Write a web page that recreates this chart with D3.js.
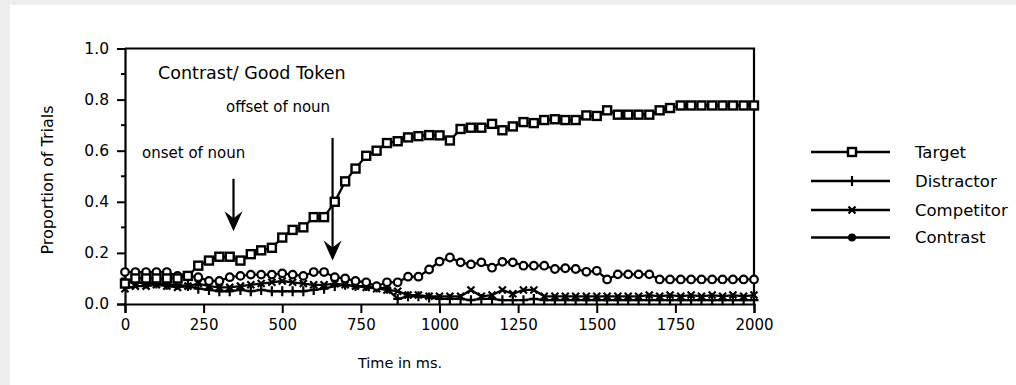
<!DOCTYPE html>
<html><head><meta charset="utf-8">
<script src="https://cdn.jsdelivr.net/npm/d3@7"></script>
<style>html,body{margin:0;padding:0;background:#eeeeee;}svg{display:block;}</style>
</head><body>
<svg id="chart" width="1016" height="385"></svg>
<script>
const times = [0,33,67,100,133,167,200,233,267,300,333,367,400,433,467,500,533,567,600,633,667,700,733,767,800,833,867,900,933,967,1000,1033,1067,1100,1133,1167,1200,1233,1267,1300,1333,1367,1400,1433,1467,1500,1533,1567,1600,1633,1667,1700,1733,1767,1800,1833,1867,1900,1933,1967,2000];
const target = [0.08,0.10,0.10,0.10,0.10,0.10,0.11,0.15,0.17,0.185,
  0.185,0.17,0.195,0.21,0.22,0.26,0.29,0.30,0.34,0.34,
  0.40,0.48,0.53,0.58,0.60,0.63,0.637,0.652,0.657,0.661,
  0.66,0.64,0.685,0.69,0.69,0.705,0.68,0.695,0.712,0.708,
  0.72,0.723,0.72,0.72,0.738,0.736,0.758,0.741,0.741,0.741,
  0.741,0.758,0.767,0.777,0.777,0.777,0.777,0.777,0.777,0.777,0.777];
const distractor = [0.09,0.085,0.08,0.08,0.075,0.075,0.07,0.06,0.055,0.05,
  0.05,0.055,0.05,0.055,0.05,0.05,0.05,0.05,0.055,0.06,
  0.07,0.075,0.07,0.07,0.065,0.06,0.02,0.03,0.03,0.025,
  0.02,0.02,0.02,0.015,0.02,0.02,0.015,0.015,0.015,0.02,
  0.015,0.015,0.015,0.015,0.015,0.015,0.015,0.015,0.015,0.015,
  0.015,0.015,0.015,0.015,0.015,0.015,0.015,0.015,0.015,0.015,0.015];
const competitor = [0.06,0.07,0.07,0.075,0.07,0.065,0.07,0.08,0.07,0.065,
  0.065,0.07,0.075,0.08,0.085,0.09,0.085,0.08,0.075,0.075,
  0.08,0.075,0.07,0.065,0.06,0.055,0.05,0.035,0.035,0.03,
  0.03,0.03,0.03,0.055,0.03,0.035,0.055,0.04,0.055,0.055,
  0.03,0.03,0.03,0.03,0.03,0.03,0.03,0.03,0.03,0.03,
  0.035,0.03,0.035,0.03,0.035,0.03,0.035,0.03,0.035,0.03,0.035];
const contrast = [0.125,0.125,0.125,0.125,0.125,0.11,0.11,0.105,0.09,0.09,
  0.105,0.11,0.115,0.115,0.115,0.12,0.115,0.11,0.125,0.125,
  0.105,0.10,0.09,0.085,0.07,0.085,0.085,0.107,0.107,0.135,
  0.166,0.182,0.163,0.155,0.163,0.142,0.165,0.163,0.15,0.15,
  0.15,0.137,0.14,0.137,0.126,0.13,0.096,0.116,0.116,0.116,
  0.116,0.096,0.096,0.096,0.096,0.096,0.096,0.096,0.096,0.096,0.096];
const seriesNames = ["Target","Distractor","Competitor","Contrast"];
const xTicks = [0,250,500,750,1000,1250,1500,1750,2000];
const yTicks = [0,0.2,0.4,0.6,0.8,1.0];
const yMinorTicks = [0.1,0.3,0.5,0.7,0.9];
const annotations = [
  {text:"onset of noun", t:345, from:0.49, to:0.285, lx:142, ly:158},
  {text:"offset of noun", t:660, from:0.65, to:0.17, lx:226, ly:112}
];

const svg = d3.select("#chart");
const FONT = "DejaVu Sans, Verdana, sans-serif";
svg.append("rect").attr("x",10).attr("y",5).attr("width",1006).attr("height",380).attr("fill","#ffffff");

const x = d3.scaleLinear().domain([0,2000]).range([125,754]);
const y = d3.scaleLinear().domain([0,1]).range([304,48.5]);

svg.append("path").attr("d",`M${x(0)},${y(1)}H${x(2000)}V${y(0)}`).attr("fill","none").attr("stroke","#000").attr("stroke-width",2.2);

const yAxis = svg.append("g").attr("transform",`translate(${x(0)},0)`)
  .call(d3.axisLeft(y).tickValues(yTicks).tickFormat(d3.format(".1f")).tickSize(8).tickPadding(8));
yAxis.select(".domain").attr("stroke-width",2.2);
yAxis.selectAll(".tick line").attr("stroke-width",2);
yAxis.selectAll("text").attr("font-family",FONT).attr("font-size",15.5).attr("fill","#000");
svg.append("g").attr("transform",`translate(${x(0)},0)`).selectAll("line").data(yMinorTicks).join("line")
  .attr("x1",-4).attr("x2",0).attr("y1",d=>y(d)).attr("y2",d=>y(d)).attr("stroke","#000").attr("stroke-width",2);

const xAxis = svg.append("g").attr("transform",`translate(0,${y(0)})`)
  .call(d3.axisBottom(x).tickValues(xTicks).tickFormat(d3.format("d")).tickSize(9).tickPadding(6));
xAxis.select(".domain").attr("stroke-width",2.2);
xAxis.selectAll(".tick line").attr("stroke-width",2);
xAxis.selectAll("text").attr("font-family",FONT).attr("font-size",15).attr("fill","#000");

svg.append("text").attr("x",400).attr("y",368).attr("text-anchor","middle")
  .attr("font-family",FONT).attr("font-size",14.5).attr("fill","#000").text("Time in ms.");
svg.append("text").attr("transform","translate(53,180) rotate(-90)").attr("text-anchor","middle")
  .attr("font-family",FONT).attr("font-size",16).attr("fill","#000").text("Proportion of Trials");

svg.append("text").attr("x",158).attr("y",79).attr("font-family",FONT).attr("font-size",17.5).attr("fill","#000").text("Contrast/ Good Token");
annotations.forEach(a=>{
  svg.append("text").attr("x",a.lx).attr("y",a.ly).attr("font-family",FONT).attr("font-size",15).attr("fill","#000").text(a.text);
  const ax = x(a.t), y1 = y(a.from), y2 = y(a.to);
  svg.append("line").attr("x1",ax).attr("x2",ax).attr("y1",y1).attr("y2",y2-12).attr("stroke","#000").attr("stroke-width",2.2);
  svg.append("path").attr("d",`M${ax},${y2}L${ax-9},${y2-20}L${ax},${y2-13}L${ax+9},${y2-20}Z`).attr("fill","#000");
});

function drawMarker(g, type, cx, cy, legend){
  if(type==="Target"){
    g.append("rect").attr("x",cx-4).attr("y",cy-4).attr("width",8).attr("height",8).attr("fill","#fff").attr("stroke","#000").attr("stroke-width",2.4);
  } else if(type==="Distractor"){
    g.append("path").attr("d",`M${cx-4.5},${cy}H${cx+4.5}M${cx},${cy-5}V${cy+5}`).attr("stroke","#000").attr("stroke-width",2.2);
  } else if(type==="Competitor"){
    g.append("path").attr("d",`M${cx-3.5},${cy-3.5}L${cx+3.5},${cy+3.5}M${cx-3.5},${cy+3.5}L${cx+3.5},${cy-3.5}`).attr("stroke","#000").attr("stroke-width",2.2);
  } else {
    if(legend) g.append("circle").attr("cx",cx).attr("cy",cy).attr("r",4).attr("fill","#000");
    else g.append("circle").attr("cx",cx).attr("cy",cy).attr("r",3.8).attr("fill","#fff").attr("stroke","#000").attr("stroke-width",2.2);
  }
}

const seriesData = {Target:target, Distractor:distractor, Competitor:competitor, Contrast:contrast};
const line = d3.line().x(d=>x(d[0])).y(d=>y(d[1]));
["Distractor","Competitor","Contrast","Target"].forEach(name=>{
  const pts = times.map((t,i)=>[t, seriesData[name][i]]);
  svg.append("path").datum(pts).attr("d",line).attr("fill","none").attr("stroke","#000").attr("stroke-width",2.3);
  const g = svg.append("g");
  pts.forEach(p=>drawMarker(g,name,x(p[0]),y(p[1]),false));
});

const legendY = [152,181,210,237.5];
seriesNames.forEach((name,i)=>{
  const g = svg.append("g");
  g.append("line").attr("x1",811).attr("x2",890).attr("y1",legendY[i]).attr("y2",legendY[i]).attr("stroke","#000").attr("stroke-width",2.3);
  drawMarker(g,name,852,legendY[i],true);
  g.append("text").attr("x",915).attr("y",legendY[i]).attr("dy","0.35em").attr("font-family",FONT).attr("font-size",16.5).attr("fill","#000").text(name);
});
</script>
</body></html>
